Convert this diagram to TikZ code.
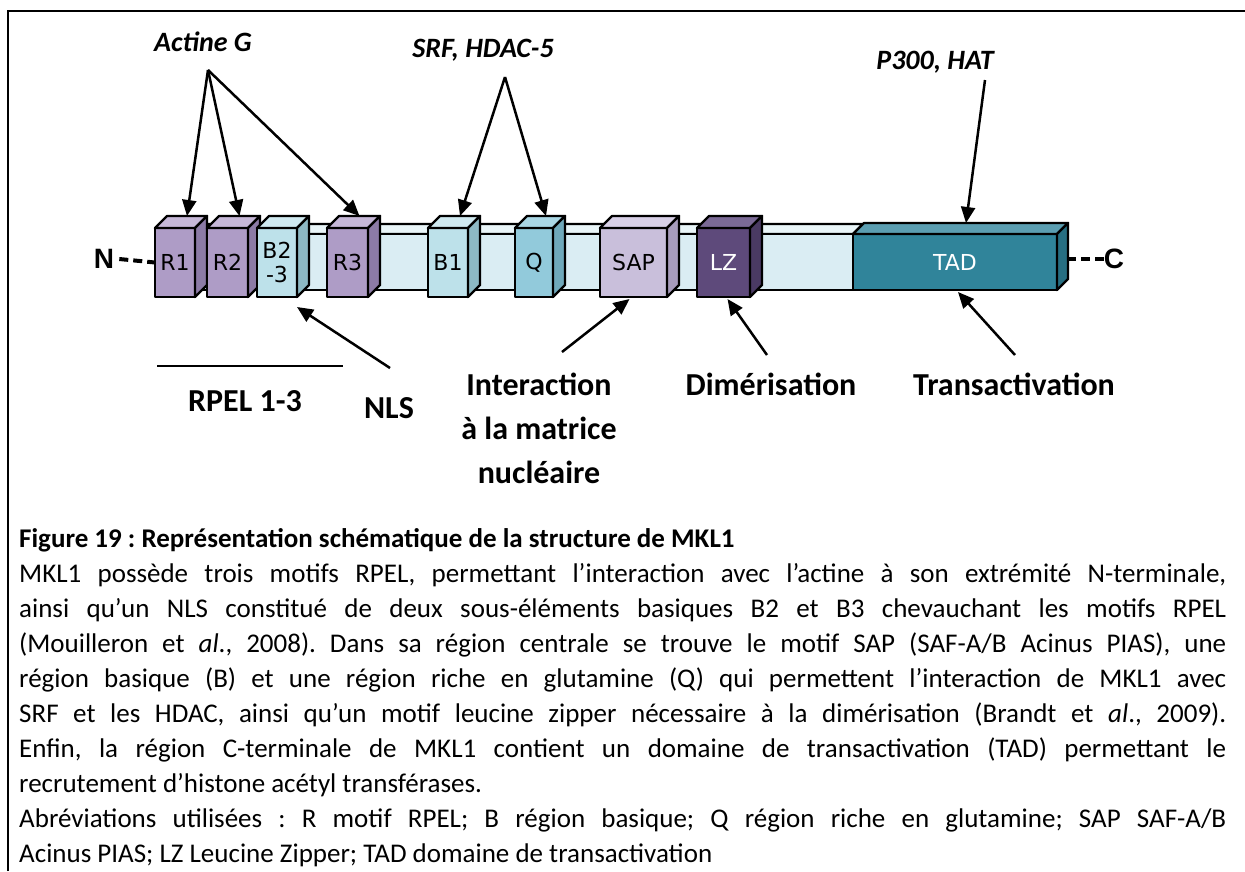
\documentclass[tikz,border=0pt]{standalone}
\usepackage{fontspec}
\setmainfont{Carlito}
\newfontfamily\boxfont{DejaVu Sans}
\newfontfamily\nfont{Liberation Sans}
\usetikzlibrary{arrows.meta,calc}
\frenchspacing
\definecolor{Rf}{HTML}{AE9CC6}\definecolor{Rt}{HTML}{C6B8D8}\definecolor{Rs}{HTML}{8C7BA6}
\definecolor{Bf}{HTML}{BDE1EA}\definecolor{Bt}{HTML}{CFE9F0}\definecolor{Bs}{HTML}{8DB9C4}
\definecolor{Qf}{HTML}{92CADB}\definecolor{Qt}{HTML}{AAD7E5}\definecolor{Qs}{HTML}{6FA9BB}
\definecolor{Sf}{HTML}{C9BFDB}\definecolor{St}{HTML}{D8D0E7}\definecolor{Ss}{HTML}{A79CBC}
\definecolor{Lf}{HTML}{5E4A7B}\definecolor{Lt}{HTML}{7B6A96}\definecolor{Ls}{HTML}{4A3A63}
\definecolor{Tf}{HTML}{30849A}\definecolor{Tt}{HTML}{5B9EB1}\definecolor{Ts}{HTML}{276F82}
\definecolor{barf}{HTML}{DAEDF3}\definecolor{bart}{HTML}{E9F5F8}
\tikzset{
  edge3d/.style={draw=black, line width=2.4pt, line join=round},
  boxlbl/.style={font=\boxfont\fontsize{22}{24}\selectfont, align=center},
  arr/.style={line width=2.5pt, -{Triangle[length=16pt,width=14pt]}},
  big/.style={font=\fontsize{32}{38}\selectfont\bfseries},
  partner/.style={font=\fontsize{28}{32}\selectfont\bfseries\itshape},
  captext/.style={font=\fontsize{27}{33}\selectfont, anchor=base west, inner sep=0pt},
  dashline/.style={line width=4pt, dash pattern=on 9pt off 5pt},
  term/.style={font=\nfont\fontsize{28}{30}\selectfont\bfseries, inner sep=0pt},
}
% name, x1, x2, y1, y2, colour prefix, depth, label
\newcommand\pbox[8]{%
  \node[edge3d, fill=#6f, outer sep=0pt, inner sep=0pt, anchor=north west,
        minimum width={(#3-#2)*1pt}, minimum height={(#5-#4)*1pt}, boxlbl] (#1) at (#2,#4) {#8};
  \draw[edge3d, fill=#6t] (#1.north west) -- ++(#7,-#7) -- ($(#1.north east)+(#7,-#7)$) -- (#1.north east) -- cycle;
  \draw[edge3d, fill=#6s] (#1.north east) -- ++(#7,-#7) -- ($(#1.south east)+(#7,-#7)$) -- (#1.south east) -- cycle;
  \coordinate (#1-top) at ($(#1.north)+(#7,-#7)$);
}
\begin{document}
\begin{tikzpicture}[x=1pt,y=-1pt]
\useasboundingbox (0,0) rectangle (1245,871);
\fill[white] (0,0) rectangle (1245,871);
% frame
\draw[line width=2pt] (8,871) -- (8,11) -- (1245,11);

% backbone
\draw[edge3d, fill=bart] (185,234) -- (195,224) -- (863,224) -- (853,234) -- cycle;
\draw[edge3d, fill=barf] (185,234) rectangle (853,290);

% domains
\pbox{r1}{155}{195}{228}{297}{R}{12}{R1}
\pbox{r2}{207}{248}{228}{297}{R}{12}{R2}
\pbox{b23}{257}{297}{228}{297}{B}{12}{B2\\-3}
\pbox{r3}{327}{368}{228}{297}{R}{12}{R3}
\pbox{b1}{428}{468}{228}{297}{B}{12}{B1}
\pbox{q}{515}{553}{228}{297}{Q}{12}{Q}
\pbox{sap}{600}{667}{228}{297}{S}{12}{SAP}
\pbox{lz}{697}{750}{228}{297}{L}{12}{\color{white}LZ}
\pbox{tad}{853}{1057}{234}{290}{T}{11}{\color{white}TAD}

% termini
\node[term] (nN) at (104,259) {N};
\node[term] (nC) at (1114,259) {C};
\draw[dashline] ($(nN.east)+(5,0)$) -- (r1.west);
\draw[dashline] (nC.west) -- ++(-38,0);

% partner labels
\node[partner] (actine) at (203,42) {Actine G};
\node[partner] (srf) at (483,50) {SRF, HDAC-5};
\node[partner] (p300) at (935,62) {P300, HAT};
\coordinate (apexA) at (208,70);
\coordinate (apexS) at (505,77);
\coordinate (apexP) at (985,80);
\draw[arr] (apexA) -- (r1-top);
\draw[arr] (apexA) -- (r2-top);
\draw[arr] (apexA) -- (r3-top);
\draw[arr] (apexS) -- (b1-top);
\draw[arr] (apexS) -- (q-top);
\draw[arr] (apexP) -- (tad-top);

% lower labels
\coordinate (rpelA) at (157,366);
\coordinate (rpelB) at (343,366);
\draw[line width=2pt] (rpelA) -- (rpelB);
\node[big] (rpel) at (245,401) {RPEL 1-3};
\node[big] (nls) at (389,408) {NLS};
\node[big, align=center, font=\fontsize{32}{44}\selectfont\bfseries] (inter) at (539,428) {Interaction\\à la matrice\\nucléaire};
\node[big] (dim) at (771,384) {Dimérisation};
\node[big] (trans) at (1014,384) {Transactivation};
\coordinate (tNLS) at (390,368);
\coordinate (tSAP) at (562,352);
\coordinate (tLZ) at (767,355);
\coordinate (tTAD) at (1015,355);
\draw[arr] (tNLS) -- ($(b23.south east)+(0,10)$);
\draw[arr] (tSAP) -- ($(sap.south)+(-4,2)$);
\draw[arr] (tLZ) -- ($(lz.south)+(4,2)$);
\draw[arr] (tTAD) -- ($(tad.south)+(3,2)$);

% caption
\node[captext] (l1) at (19,547) {\bfseries Figure 19 : Représentation schématique de la structure de MKL1};
\node[captext] (l2) at (19,582) {\makebox[1207pt][s]{MKL1 possède trois motifs RPEL, permettant l’interaction avec l’actine à son extrémité N-terminale,}};
\node[captext] (l3) at (19,617) {\makebox[1207pt][s]{ainsi qu’un NLS constitué de deux sous-éléments basiques B2 et B3 chevauchant les motifs RPEL}};
\node[captext] (l4) at (19,652) {\makebox[1207pt][s]{(Mouilleron et \textit{al}., 2008). Dans sa région centrale se trouve le motif SAP (SAF-A/B Acinus PIAS), une}};
\node[captext] (l5) at (19,687) {\makebox[1207pt][s]{région basique (B) et une région riche en glutamine (Q) qui permettent l’interaction de MKL1 avec}};
\node[captext] (l6) at (19,722) {\makebox[1207pt][s]{SRF et les HDAC, ainsi qu’un motif leucine zipper nécessaire à la dimérisation (Brandt et \textit{al}., 2009).}};
\node[captext] (l7) at (19,757) {\makebox[1207pt][s]{Enfin, la région C-terminale de MKL1 contient un domaine de transactivation (TAD) permettant le}};
\node[captext] (l8) at (19,792) {recrutement d’histone acétyl transférases.};
\node[captext] (l9) at (19,827) {\makebox[1207pt][s]{Abréviations utilisées : R motif RPEL; B région basique; Q région riche en glutamine; SAP SAF-A/B}};
\node[captext] (l10) at (19,862) {Acinus PIAS; LZ Leucine Zipper; TAD domaine de transactivation};
\end{tikzpicture}
\end{document}
